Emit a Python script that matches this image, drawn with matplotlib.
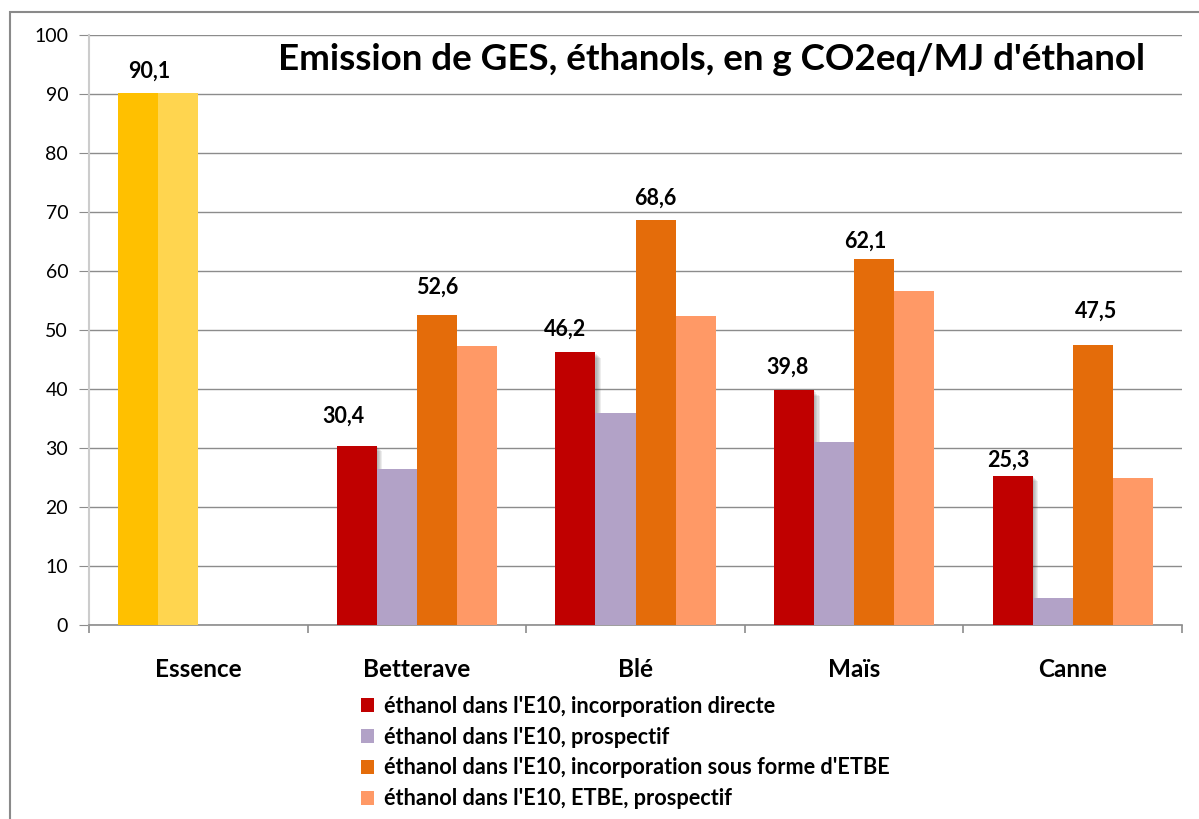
import numpy as np
import matplotlib as mpl
mpl.use('Agg')
import matplotlib.pyplot as plt
import matplotlib.patheffects as pe
from matplotlib.patches import Rectangle, Patch

plt.rcParams['font.family'] = ['Lato', 'DejaVu Sans']

# Data (g CO2eq / MJ d'ethanol)
categories = ["Essence", "Betterave", "Blé", "Maïs", "Canne"]
series_names = ["éthanol dans l'E10, incorporation directe",
                "éthanol dans l'E10, prospectif",
                "éthanol dans l'E10, incorporation sous forme d'ETBE",
                "éthanol dans l'E10, ETBE, prospectif"]
directe = [90.1, 30.4, 46.2, 39.8, 25.3]
prospectif = [90.1, 26.4, 36.0, 31.1, 4.5]
etbe = [np.nan, 52.6, 68.6, 62.1, 47.5]
etbe_prosp = [np.nan, 47.3, 52.4, 56.6, 25.0]

# Colours
colors = ["#C00000", "#B2A2C7", "#E46C0A", "#FF9966"]
essence_colors = ["#FFC000", "#FFD54F"]

# label offsets (pixels), as placed in the original chart
lab_directe = [(11, 22), (-14, 29), (-10, 23), (-7, 23), (-4, 16)]
lab_etbe = [None, (0, 27), (0, 22), (-9, 17), (3, 34)]

fig = plt.figure(figsize=(11.99, 8.19), dpi=100)
ax = fig.add_axes([89/1199, 1-625/819, (1182-89)/1199, (625-35)/819])

x = np.arange(len(categories))
w = 0.183
all_series = [directe, prospectif, etbe, etbe_prosp]
shadow = [pe.SimplePatchShadow(offset=(k*0.8, -k*0.8), shadow_rgbFace='#404040', alpha=0.09)
          for k in range(1, 6)] + [pe.Normal()]
bars = []
for i, vals in enumerate(all_series):
    b = ax.bar(x + (i-1.5)*w, vals, w, color=colors[i], zorder=3+i, linewidth=0)
    if i == 0:
        for p in b:
            p.set_path_effects(shadow)
    bars.append(b)
bars[0][0].set_facecolor(essence_colors[0])
bars[1][0].set_facecolor(essence_colors[1])

def label(barset, vals, offs):
    for p, v, o in zip(barset, vals, offs):
        if o is None:
            continue
        ax.annotate(("%.1f" % v).replace(".", ","),
                    (p.get_x() + p.get_width()/2, v),
                    xytext=o, textcoords='offset pixels',
                    ha='center', va='center', fontsize=15.5, fontweight='bold', zorder=10)

label(bars[0], directe, lab_directe)
label(bars[2], etbe, lab_etbe)

ax.set_ylim(0, 100)
ax.set_xlim(-0.5, len(categories)-0.5)
ax.set_yticks(np.arange(0, 101, 10))
ax.yaxis.grid(True, color='#8c8c8c', lw=1.0, zorder=0)
ax.set_axisbelow(True)
ax.tick_params(axis='y', length=7, color='#8c8c8c', labelsize=14, pad=8)
ax.set_xticks(x)
ax.set_xticklabels(categories, fontsize=17.5, fontweight='bold')
ax.set_xticks(np.arange(-0.5, len(categories)), minor=True)
ax.tick_params(axis='x', which='major', length=0, pad=24)
ax.tick_params(axis='x', which='minor', length=6, color='#8c8c8c', width=1.2)
for s in ['top', 'right']:
    ax.spines[s].set_visible(False)
ax.spines['left'].set_color('#cccccc')
ax.spines['left'].set_linewidth(1.5)
ax.spines['bottom'].set_color('#8c8c8c')
ax.spines['bottom'].set_linewidth(1.2)

fig.text(711/1199, 1-60/819, "Emission de GES, éthanols, en g CO2eq/MJ d'éthanol",
         ha='center', va='center', fontsize=26.5, fontweight='bold')

handles = [Patch(facecolor=c) for c in colors]
fig.legend(handles, series_names, loc='upper left', bbox_to_anchor=(361/1199, 1-696/819),
           frameon=False, prop={'weight': 'bold', 'size': 15.6},
           handlelength=0.62, handleheight=0.62, handletextpad=0.45,
           labelspacing=0.45, borderpad=0, borderaxespad=0)

fig.add_artist(Rectangle((10/1199, -0.1), 1.2, 1.1 - 12/819, transform=fig.transFigure,
                         fill=False, edgecolor='#8a8a8a', lw=1.5))

plt.savefig("out.png", dpi=100)
plt.close()
